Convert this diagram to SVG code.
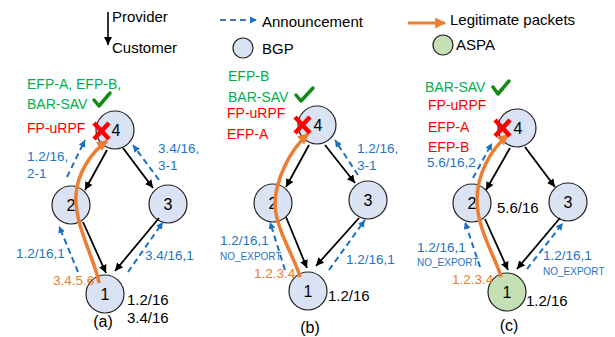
<svg xmlns="http://www.w3.org/2000/svg" width="615" height="337" viewBox="0 0 615 337">
<defs>
<style>
text{font-family:"Liberation Sans",Arial,sans-serif}
.leg{font-size:15px;fill:#000}
.bgp{fill:#dae3f3;stroke:#222;stroke-width:1.2}
.aspa{fill:#c5e0b4;stroke:#222;stroke-width:1.2}
.num{font-size:16px;fill:#000;text-anchor:middle}
.blk{stroke:#000;stroke-width:1.8;fill:none;marker-end:url(#ah-k)}
.ann{stroke:#1f6fc0;stroke-width:2;stroke-dasharray:6,4;fill:none;marker-end:url(#ah-b)}
.pkt{stroke:#ed7d31;stroke-width:3.5;fill:none;marker-end:url(#ah-o)}
.g{font-size:14px;fill:#00b050}
.r{font-size:14px;fill:#ff0000}
.b{font-size:13.5px;fill:#1f74c4}
.ne{font-size:10px;fill:#1f74c4}
.o{font-size:13.5px;fill:#ed7d31}
.k{font-size:15px;fill:#000}
.cap{font-size:16px;fill:#000;text-anchor:middle}
.chk{stroke:#13891a;stroke-width:3.5;fill:none;stroke-linecap:round;stroke-linejoin:round}
.x{stroke:#ff0000;stroke-width:4.5;stroke-linecap:butt}
</style>
<marker id="ah-k" viewBox="0 0 10 10" refX="10" refY="5" markerUnits="userSpaceOnUse" markerWidth="8" markerHeight="8" orient="auto"><path d="M0,0 L10,5 L0,10 z" fill="#000"/></marker>
<marker id="ah-b" viewBox="0 0 10 10" refX="10" refY="5" markerUnits="userSpaceOnUse" markerWidth="7" markerHeight="7" orient="auto"><path d="M0,0 L10,5 L0,10 z" fill="#1f6fc0"/></marker>
<marker id="ah-o" viewBox="0 0 10 10" refX="9" refY="5" markerUnits="userSpaceOnUse" markerWidth="11" markerHeight="11" orient="auto"><path d="M0,0 L10,5 L0,10 z" fill="#ed7d31"/></marker>
</defs>
<rect width="615" height="337" fill="#fff"/>

<g id="legend">
<line x1="108" y1="12" x2="108" y2="45" class="blk" style="stroke-width:1.6"/>
<text x="112" y="22" class="leg">Provider</text>
<text x="112" y="53" class="leg">Customer</text>
<line x1="220" y1="20" x2="257" y2="20" class="ann" style="stroke:#4472c4"/>
<text x="262" y="27" class="leg">Announcement</text>
<path d="M408,23 L445,23" class="pkt" style="stroke-width:3"/>
<text x="450" y="25" class="leg">Legitimate packets</text>
<circle cx="243" cy="48" r="10" class="bgp"/>
<text x="262" y="54" class="leg">BGP</text>
<circle cx="443" cy="45" r="10" class="aspa"/>
<text x="456" y="50" class="leg">ASPA</text>
</g>

<g id="a-node4"><circle cx="115" cy="130" r="19" class="bgp"/><text x="116" y="136" class="num">4</text></g>
<g id="a-node2"><circle cx="71" cy="205" r="19" class="bgp"/><text x="71" y="211" class="num">2</text></g>
<g id="a-node3"><circle cx="168" cy="204" r="19" class="bgp"/><text x="168" y="210" class="num">3</text></g>
<g id="a-node1"><circle cx="105" cy="294" r="19" class="bgp"/><text x="105" y="300" class="num">1</text></g>

<g id="b-node4"><circle cx="317" cy="125" r="19" class="bgp"/><text x="318" y="131" class="num">4</text></g>
<g id="b-node2"><circle cx="273" cy="203" r="19" class="bgp"/><text x="273" y="209" class="num">2</text></g>
<g id="b-node3"><circle cx="368" cy="200" r="19" class="bgp"/><text x="368" y="206" class="num">3</text></g>
<g id="b-node1"><circle cx="308" cy="291" r="19" class="bgp"/><text x="308" y="297" class="num">1</text></g>

<g id="c-node4"><circle cx="517" cy="128" r="19" class="bgp"/><text x="518" y="134" class="num">4</text></g>
<g id="c-node2"><circle cx="472" cy="203" r="19" class="bgp"/><text x="472" y="209" class="num">2</text></g>
<g id="c-node3"><circle cx="568" cy="202" r="19" class="bgp"/><text x="568" y="208" class="num">3</text></g>
<g id="c-node1"><circle cx="507" cy="292" r="19" class="aspa"/><text x="507" y="298" class="num">1</text></g>

<g id="connectors">
<line x1="107" y1="150" x2="85" y2="190" class="blk"/>
<line x1="123" y1="148" x2="153" y2="188" class="blk"/>
<line x1="83" y1="222" x2="106" y2="273" class="blk"/>
<line x1="159" y1="218" x2="115" y2="271" class="blk"/>
<line x1="67" y1="177" x2="85" y2="140" class="ann"/>
<line x1="159" y1="180" x2="133" y2="145" class="ann"/>
<line x1="78" y1="272" x2="59" y2="226" class="ann"/>
<line x1="128" y1="272" x2="163" y2="222" class="ann"/>
<path d="M99,283 C96,262 74,225 76,195 C77,175 90,153 107,141" class="pkt"/>

<line x1="309" y1="145" x2="286" y2="187" class="blk"/>
<line x1="325" y1="145" x2="355" y2="183" class="blk"/>
<line x1="286" y1="217" x2="307" y2="268" class="blk"/>
<line x1="359" y1="218" x2="316" y2="266" class="blk"/>
<line x1="358" y1="175" x2="335" y2="140" class="ann"/>
<line x1="285" y1="270" x2="270" y2="222" class="ann"/>
<line x1="329" y1="270" x2="365" y2="220" class="ann"/>
<path d="M300,277 C296,260 276,230 275,205 C275,180 290,150 308,134" class="pkt"/>

<line x1="510" y1="148" x2="486" y2="190" class="blk"/>
<line x1="525" y1="147" x2="555" y2="187" class="blk"/>
<line x1="485" y1="219" x2="508" y2="270" class="blk"/>
<line x1="560" y1="218" x2="517" y2="269" class="blk"/>
<line x1="473" y1="178" x2="492" y2="143" class="ann"/>
<line x1="480" y1="267" x2="465" y2="222" class="ann"/>
<line x1="527" y1="269" x2="563" y2="223" class="ann"/>
<path d="M501,277 C497,260 477,230 477,200 C477,175 490,150 508,135" class="pkt"/>
</g>

<g id="panel-a-labels">
<text x="27" y="89" class="g">EFP-A, EFP-B,</text>
<text x="27" y="109" class="g">BAR-SAV</text>
<path d="M94,100 L99,106 L110,93" class="chk"/>
<text x="27" y="133" class="r">FP-uRPF</text>
<line x1="94" y1="123" x2="109" y2="139" class="x"/><line x1="109" y1="123" x2="94" y2="139" class="x"/>
<text x="27" y="161" class="b">1.2/16,</text>
<text x="27" y="178" class="b">2-1</text>
<text x="158" y="153" class="b">3.4/16,</text>
<text x="158" y="170" class="b">3-1</text>
<text x="16" y="258" class="b">1.2/16,1</text>
<text x="145" y="260" class="b">3.4/16,1</text>
<text x="53" y="285" class="o">3.4.5.6</text>
<text x="127" y="305" class="k">1.2/16</text>
<text x="127" y="323" class="k">3.4/16</text>
<text x="103" y="327" class="cap">(a)</text>
</g>

<g id="panel-b-labels">
<text x="228" y="81" class="g">EFP-B</text>
<text x="228" y="102" class="g">BAR-SAV</text>
<path d="M296,95 L301,101 L313,88" class="chk"/>
<text x="227" y="118" class="r">FP-uRPF</text>
<text x="227" y="139" class="r">EFP-A</text>
<line x1="295" y1="117" x2="310" y2="133" class="x"/><line x1="310" y1="117" x2="295" y2="133" class="x"/>
<text x="357" y="153" class="b">1.2/16,</text>
<text x="357" y="170" class="b">3-1</text>
<text x="220" y="245" class="b">1.2/16,1</text>
<text x="220" y="260" class="ne">NO_EXPORT</text>
<text x="346" y="264" class="b">1.2/16,1</text>
<text x="254" y="278" class="o">1.2.3.4</text>
<text x="328" y="301" class="k">1.2/16</text>
<text x="310" y="333" class="cap">(b)</text>
</g>

<g id="panel-c-labels">
<text x="425" y="92" class="g">BAR-SAV</text>
<path d="M493,87 L498,94 L509,81" class="chk"/>
<text x="428" y="110" class="r">FP-uRPF</text>
<text x="428" y="132" class="r">EFP-A</text>
<text x="428" y="152" class="r">EFP-B</text>
<text x="427" y="167" class="b">5.6/16,2</text>
<line x1="495" y1="120" x2="510" y2="136" class="x"/><line x1="510" y1="120" x2="495" y2="136" class="x"/>
<text x="497" y="213" class="k">5.6/16</text>
<text x="417" y="252" class="b">1.2/16,1</text>
<text x="417" y="266" class="ne">NO_EXPORT</text>
<text x="543" y="260" class="b">1.2/16,1</text>
<text x="543" y="275" class="ne">NO_EXPORT</text>
<text x="452" y="284" class="o">1.2.3.4</text>
<text x="526" y="306" class="k">1.2/16</text>
<text x="509" y="331" class="cap">(c)</text>
</g>
</svg>
